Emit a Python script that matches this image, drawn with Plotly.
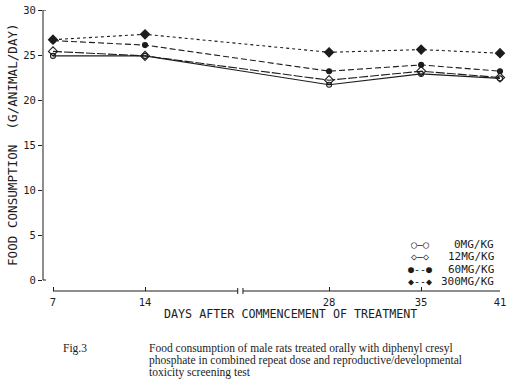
import plotly.graph_objects as go

# ---- data ----
days = [7, 14, 28, 35, 41]
series_names = ["0MG/KG", "12MG/KG", "60MG/KG", "300MG/KG"]
food_0 = [24.9, 24.9, 21.7, 22.9, 22.4]
food_12 = [25.4, 24.9, 22.2, 23.2, 22.5]
food_60 = [26.6, 26.1, 23.2, 23.9, 23.2]
food_300 = [26.7, 27.3, 25.3, 25.6, 25.2]
x_ticks = [7, 14, 28, 35, 41]
y_ticks = [0, 5, 10, 15, 20, 25, 30]

values = [food_0, food_12, food_60, food_300]
symbols = ["circle-open", "diamond-open", "circle", "diamond"]
msizes = [5, 7, 5, 7]
dashes = ["solid", "9px,2px", "6px,3px", "3px,3px"]
legend_samples = ["○—○", "◇—◇", "●--●", "◆--◆"]

INK = "#1c1c1c"
MONO = "DejaVu Sans Mono"
SERIF = "Liberation Serif"

W, H = 513, 380
L, R, T, B = 43, 13, 10, 89
pw, ph = W - L - R, H - T - B

fig = go.Figure()
for name, vals, sym, ms, dash in zip(series_names, values, symbols, msizes, dashes):
    fig.add_trace(go.Scatter(
        x=days, y=vals, name=name, mode="lines+markers",
        line=dict(color=INK, width=1.1, dash=dash),
        marker=dict(symbol=sym, size=ms, color=INK, line=dict(color=INK, width=1.1)),
        cliponaxis=False, showlegend=False,
    ))

def px_x(p):  # paper x from pixel
    return (p - L) / pw

def px_y(p):  # paper y from pixel
    return (H - B - p) / ph

shapes = []
# y axis line
shapes.append(dict(type="line", xref="paper", yref="y", x0=0, x1=0, y0=0, y1=30,
                   line=dict(color=INK, width=1)))
for yv in (0, 30):
    shapes.append(dict(type="line", xref="paper", yref="y", x0=0, x1=3 / pw, y0=yv, y1=yv,
                       line=dict(color=INK, width=1)))
# x axis line with a break
brk_l, brk_r = 21.05, 21.45
for a, b in ((x_ticks[0], brk_l), (brk_r, x_ticks[-1])):
    shapes.append(dict(type="line", xref="x", yref="paper", x0=a, x1=b, y0=0, y1=0,
                       line=dict(color=INK, width=1)))
for xb in (brk_l, brk_r):
    shapes.append(dict(type="line", xref="x", yref="paper", x0=xb, x1=xb,
                       y0=-3 / ph, y1=3 / ph, line=dict(color=INK, width=1)))

def ann(text, xp, yp, size, family=MONO, xanchor="center", **kw):
    return dict(text=text, xref="paper", yref="paper", x=px_x(xp), y=px_y(yp),
                xanchor=xanchor, yanchor="middle", showarrow=False, borderpad=0,
                font=dict(family=family, size=size, color=INK), **kw)

annotations = []
annotations.append(ann("FOOD CONSUMPTION  (G/ANIMAL/DAY)", 12, 145, 12.6, textangle=-90))
annotations.append(ann("DAYS AFTER COMMENCEMENT OF TREATMENT", 290, 314.5, 11.7))
# legend
rows = [244, 256.5, 269, 281]
for ry, samp, name in zip(rows, legend_samples, series_names):
    annotations.append(ann(samp, 420, ry, 10))
    annotations.append(ann(name, 495, ry, 11, xanchor="right"))
# caption
annotations.append(ann("Fig.3", 62, 348, 11.5, family=SERIF, xanchor="left"))
caption = ["Food consumption of male rats treated orally with diphenyl cresyl",
           "phosphate in combined repeat dose and reproductive/developmental",
           "toxicity screening test"]
for i, line in enumerate(caption):
    annotations.append(ann(line, 148, 348 + 12 * i, 11.5, family=SERIF, xanchor="left"))

x_left = x_ticks[0] - 10 / (447 / (x_ticks[-1] - x_ticks[0]))
fig.update_layout(
    width=W, height=H, margin=dict(l=L, r=R, t=T, b=B, pad=0),
    paper_bgcolor="white", plot_bgcolor="white",
    xaxis=dict(range=[x_left, x_ticks[-1]], tickvals=x_ticks, ticks="inside", ticklen=4,
               tickcolor=INK, showgrid=False, zeroline=False, showline=False,
               ticklabelstandoff=3, automargin=False,
               tickfont=dict(family=MONO, size=10.5, color=INK)),
    yaxis=dict(range=[-11 / 9, 30], tickvals=y_ticks, ticks="outside", ticklen=4,
               tickcolor=INK, showgrid=False, zeroline=False, showline=False,
               automargin=False,
               tickfont=dict(family=MONO, size=10.5, color=INK)),
    shapes=shapes, annotations=annotations, showlegend=False,
)
fig.write_html("out.html", config={"displayModeBar": False},
               post_script="document.body.style.margin='0';document.body.style.overflow='hidden';")
